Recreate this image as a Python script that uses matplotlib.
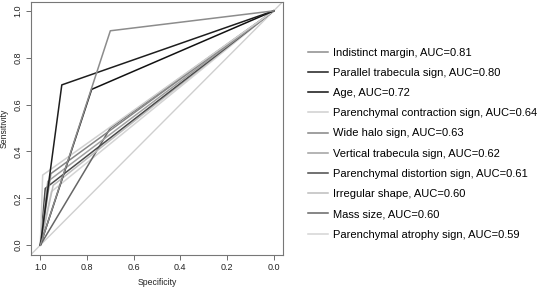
import matplotlib
matplotlib.use("Agg")
import matplotlib.pyplot as plt

plt.rcParams['font.family'] = ['Liberation Sans', 'DejaVu Sans']

# Binary-predictor ROC curves: one operating point per feature
features = ["Indistinct margin", "Parallel trabecula sign", "Age",
            "Parenchymal contraction sign", "Wide halo sign",
            "Vertical trabecula sign", "Parenchymal distortion sign",
            "Irregular shape", "Mass size", "Parenchymal atrophy sign"]
auc = ["0.81", "0.80", "0.72", "0.64", "0.63", "0.62", "0.61", "0.60", "0.60", "0.59"]
spec = [0.70, 0.908, 0.78, 0.99, 0.955, 0.968, 0.979, 0.945, 0.70, 0.953]
sens = [0.915, 0.684, 0.665, 0.299, 0.305, 0.272, 0.242, 0.255, 0.50, 0.228]

greys = ["#8c8c8c", "#1e1e1e", "#111111", "#d0d0d0", "#858585",
         "#a0a0a0", "#4a4a4a", "#bdbdbd", "#666666", "#d4d4d4"]

fig = plt.figure(figsize=(5.4, 2.87), dpi=100)
ax = fig.add_axes([31/540, 1 - 254.5/287, 252/540, 253/287])

# chance line
ax.plot([1.04, -0.04], [-0.04, 1.04], color="#cfcfcf", lw=1.0, zorder=1)

for i in range(len(features)):
    ax.plot([1.0, spec[i], 0.0], [0.0, sens[i], 1.0], color=greys[i], lw=1.1,
            label=f"{features[i]}, AUC={auc[i]}", zorder=2 + (10 - i) * 0.1)

ax.set_xlim(1.04, -0.04)
ax.set_ylim(-0.04, 1.04)
ticks = [1.0, 0.8, 0.6, 0.4, 0.2, 0.0]
ax.set_xticks(ticks)
ax.set_yticks(ticks)
ax.set_xticklabels([f"{t:.1f}" for t in ticks])
ax.set_yticklabels([f"{t:.1f}" for t in ticks], rotation=90, va="center")
ax.tick_params(labelsize=6.5, length=3.6, width=0.6, color="#555555", pad=2.5, labelcolor="#222222")
for s in ax.spines.values():
    s.set_color("#777777")
    s.set_linewidth(0.8)
ax.set_xlabel("Specificity", fontsize=6.2, labelpad=4, color="#222222")
ax.set_ylabel("Sensitivity", fontsize=6.2, labelpad=3.5, color="#222222")

fig.legend(loc="upper left", bbox_to_anchor=(308/540, 1 - 47.5/287), frameon=False,
           fontsize=8, labelspacing=0.92, handlelength=1.8, handletextpad=0.45,
           borderaxespad=0, borderpad=0)

fig.savefig("out.png", dpi=100)
